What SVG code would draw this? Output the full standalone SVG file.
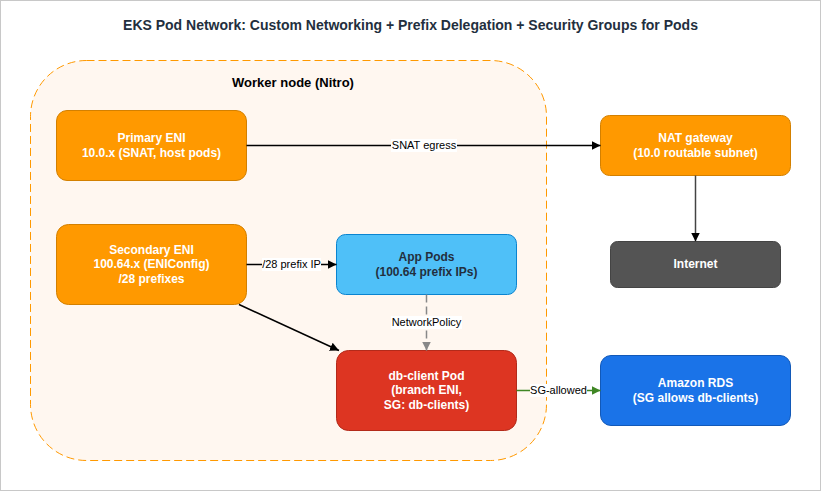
<svg xmlns="http://www.w3.org/2000/svg" width="821" height="491" viewBox="0 0 821 491">
<style>
text{font-family:Helvetica,"Liberation Sans",Arial,sans-serif;text-anchor:middle}
.n{font-size:12px;font-weight:700;fill:#fff}
.l{font-size:11px;fill:#000}
.e{fill:none;stroke-width:1.5}
.bg{fill:#fff}
</style>
<defs>
<marker id="ak" markerUnits="userSpaceOnUse" markerWidth="12" markerHeight="12" refX="9" refY="5" orient="auto"><path d="M0 0.500L9 5L0 9.500Z" fill="#000"/></marker>
<marker id="ag" markerUnits="userSpaceOnUse" markerWidth="12" markerHeight="12" refX="9" refY="5" orient="auto"><path d="M0 0.500L9 5L0 9.500Z" fill="#888"/></marker>
<marker id="ax" markerUnits="userSpaceOnUse" markerWidth="12" markerHeight="12" refX="9" refY="5" orient="auto"><path d="M0 0.500L9 5L0 9.500Z" fill="#3f8624"/></marker>
</defs>
<rect x="0.5" y="0.5" width="820" height="490" fill="#fff" stroke="#c8c8c8"/>
<text x="410.500" y="30" style="font-size:14px;font-weight:700;fill:#232f3e">EKS Pod Network: Custom Networking + Prefix Delegation + Security Groups for Pods</text>
<g id="worker-node">
<rect x="30.500" y="60.500" width="516" height="400" rx="56" fill="#fff7f0" stroke="#ff9900" stroke-dasharray="8 4"/>
<text x="293" y="87" style="font-size:13px;font-weight:700;fill:#000">Worker node (Nitro)</text>
</g>
<g id="primary-eni">
<rect x="56.500" y="110.500" width="190" height="70" rx="10.500" fill="#ff9900" stroke="#d38000"/>
<text class="n" x="151.500" y="142">Primary ENI</text><text class="n" x="151.500" y="157">10.0.x (SNAT, host pods)</text>
</g>
<g id="secondary-eni">
<rect x="56.500" y="224.500" width="190" height="80" rx="12" fill="#ff9900" stroke="#d38000"/>
<text class="n" x="151.500" y="254">Secondary ENI</text><text class="n" x="151.500" y="268">100.64.x (ENIConfig)</text><text class="n" x="151.500" y="283">/28 prefixes</text>
</g>
<g id="app-pods">
<rect x="336.500" y="234.500" width="180" height="60" rx="9" fill="#4fc0f8" stroke="#0a84d0"/>
<text x="426.500" y="261" style="font-size:12px;font-weight:700;fill:#232f3e">App Pods</text><text x="426.500" y="276" style="font-size:12px;font-weight:700;fill:#232f3e">(100.64 prefix IPs)</text>
</g>
<g id="db-client-pod">
<rect x="336.500" y="350.500" width="180" height="80" rx="12" fill="#dd3522" stroke="#b32a1a"/>
<text class="n" x="426.500" y="380">db-client Pod</text><text class="n" x="426.500" y="394">(branch ENI,</text><text class="n" x="426.500" y="409">SG: db-clients)</text>
</g>
<g id="nat-gateway">
<rect x="600.500" y="115.500" width="190" height="60" rx="9" fill="#ff9900" stroke="#d38000"/>
<text class="n" x="695.500" y="142">NAT gateway</text><text class="n" x="695.500" y="157">(10.0 routable subnet)</text>
</g>
<g id="internet">
<rect x="610.500" y="241.500" width="170" height="46" rx="6.900" fill="#545454" stroke="#444"/>
<text class="n" x="695.500" y="268">Internet</text>
</g>
<g id="amazon-rds">
<rect x="600.500" y="355.500" width="190" height="70" rx="10.500" fill="#1a73e8" stroke="#1259b8"/>
<text class="n" x="695.500" y="387">Amazon RDS</text><text class="n" x="695.500" y="402">(SG allows db-clients)</text>
</g>
<g id="connectors">
<path class="e" d="M246.500 145.500H600.500" stroke="#000" marker-end="url(#ak)"/>
<rect class="bg" x="391" y="139" width="66" height="13"/>
<text class="l" x="424" y="149">SNAT egress</text>
<path class="e" d="M695.500 175.500V241.500" stroke="#444" marker-end="url(#ak)"/>
<path class="e" d="M246.500 264.500H336.500" stroke="#000" marker-end="url(#ak)"/>
<rect class="bg" x="262" y="258" width="59" height="13"/>
<text class="l" x="291.500" y="268">/28 prefix IP</text>
<path class="e" d="M239 304.500L339 350.500" stroke="#000" marker-end="url(#ak)"/>
<path class="e" d="M426.500 294.500V350.500" stroke="#888" stroke-dasharray="8 4" marker-end="url(#ag)"/>
<rect class="bg" x="391" y="316" width="71" height="13"/>
<text class="l" x="426.500" y="326">NetworkPolicy</text>
<path class="e" d="M516.500 390.500H600.500" stroke="#3f8624" marker-end="url(#ax)"/>
<rect class="bg" x="530" y="384" width="57" height="13"/>
<text class="l" x="558.500" y="394">SG-allowed</text>
</g>
</svg>
